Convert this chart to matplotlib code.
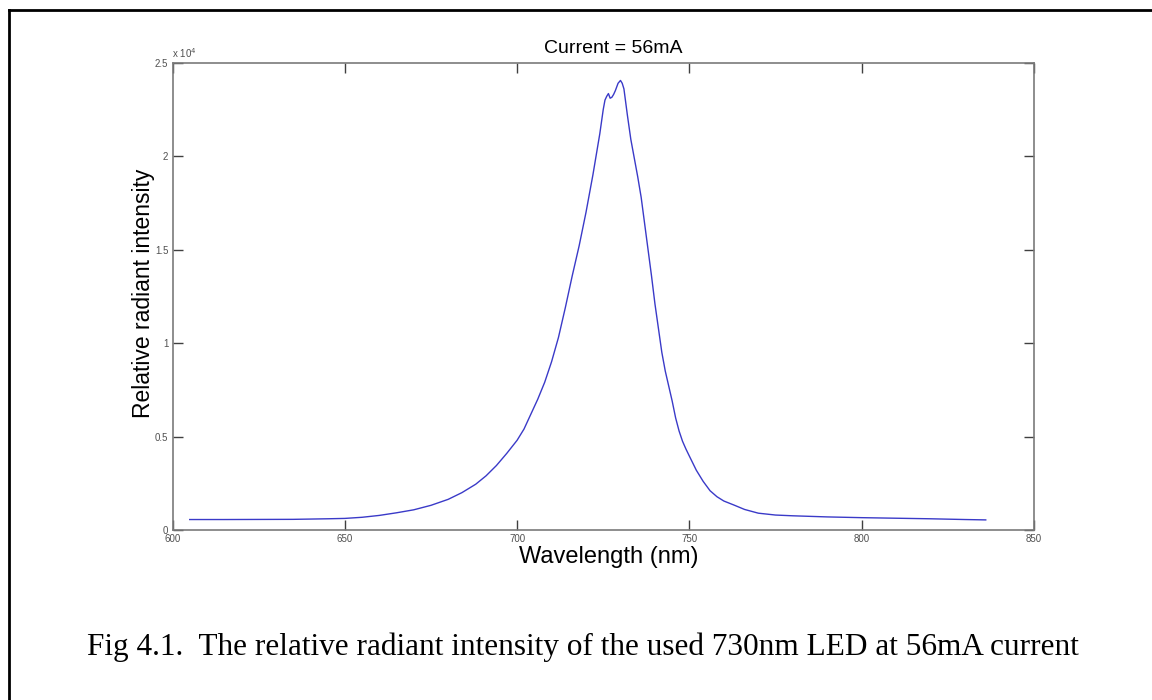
import matplotlib
matplotlib.use("Agg")
import matplotlib.pyplot as plt
from matplotlib.lines import Line2D
from matplotlib.ticker import FuncFormatter

# Data (wavelength in nm, relative intensity)
wavelength = [605, 615, 625, 635, 645, 650, 655, 660, 665, 670, 675, 680, 684,
              688, 691, 694, 697, 700, 702, 704, 706, 708, 710, 712, 714, 716,
              718, 719, 720, 721, 722, 723, 724, 725, 725.5, 726, 726.5, 727,
              727.5, 728, 728.5, 729.3, 730, 730.5, 731, 731.5, 732, 733, 734,
              735, 736, 737, 738, 739, 740, 741, 742, 743, 744, 745, 746, 747,
              748, 749, 750, 752, 754, 756, 758, 760, 763, 766, 770, 775, 780,
              790, 800, 810, 820, 830, 836]
intensity = [560, 560, 565, 570, 600, 620, 680, 780, 920, 1080, 1320, 1640,
             2000, 2450, 2900, 3450, 4100, 4800, 5400, 6200, 7000, 7900, 9000,
             10300, 11900, 13600, 15200, 16100, 17000, 18000, 19000, 20100,
             21200, 22500, 23000, 23200, 23350, 23100, 23150, 23300, 23500,
             23900, 24050, 23900, 23600, 22900, 22200, 20900, 19900, 18900,
             17800, 16400, 15000, 13600, 12100, 10800, 9500, 8500, 7700, 6900,
             6000, 5300, 4750, 4330, 3950, 3200, 2600, 2100, 1780, 1550, 1330,
             1100, 900, 800, 760, 700, 660, 630, 600, 560, 540]

x_ticks = [600, 650, 700, 750, 800, 850]
y_ticks = [0, 5000, 10000, 15000, 20000, 25000]

title_text = "Current = 56mA"
x_label = "Wavelength (nm)"
y_label = "Relative radiant intensity"
caption = "Fig 4.1.  The relative radiant intensity of the used 730nm LED at 56mA current"

W, H = 1152, 700
fig = plt.figure(figsize=(W / 100, H / 100), dpi=100)
fig.patch.set_facecolor("white")

ax_left, ax_right, ax_top, ax_bottom = 172.5, 1034, 62.7, 530
ax = fig.add_axes([ax_left / W, 1 - ax_bottom / H,
                   (ax_right - ax_left) / W, (ax_bottom - ax_top) / H])
ax_w = ax_right - ax_left
ax_h = ax_bottom - ax_top

ax.plot(wavelength, intensity, color="#3a3ac8", linewidth=1.0)
ax.set_xlim(600, 850)
ax.set_ylim(0, 25000)
ax.set_xticks(x_ticks)
ax.set_yticks(y_ticks)

def yfmt(v, pos):
    return "%g" % (v / 1e4)
ax.yaxis.set_major_formatter(FuncFormatter(yfmt))

spine_color = "#7a7a7a"
for sp in ax.spines.values():
    sp.set_color(spine_color)
    sp.set_linewidth(1.2)
ax.tick_params(direction="in", length=7, width=1.0, color="#404040",
               labelsize=7, labelcolor="#505050",
               top=True, right=True, pad=3)
for lbl in ax.get_xticklabels() + ax.get_yticklabels():
    lbl.set_family("Liberation Sans")

ax.text(0.0, 1.005, r"x 10$^4$", transform=ax.transAxes, fontsize=7,
        color="#505050", ha="left", va="bottom", family="Liberation Sans")

ax.text((613.5 - ax_left) / ax_w, (ax_bottom - 52.7) / ax_h, title_text,
        transform=ax.transAxes, fontsize=14, family="Liberation Sans",
        ha="center", va="baseline")

ax.set_xlabel(x_label, fontsize=17, family="Liberation Sans")
ax.xaxis.set_label_coords((609 - ax_left) / ax_w, (ax_bottom - 546) / ax_h)
ax.set_ylabel(y_label, fontsize=16.5, family="Liberation Sans")
ax.yaxis.set_label_coords((155 - ax_left) / ax_w, (ax_bottom - 293) / ax_h)

fig.text(583 / W, 1 - 647 / H, caption, fontsize=22.5, family="Liberation Serif",
         ha="center", va="center", color="black")

# outer frame (left and top edges visible in the reference)
fig.add_artist(Line2D([8.5 / W, 8.5 / W], [0, 1 - 10 / H], transform=fig.transFigure,
                      color="black", linewidth=2))
fig.add_artist(Line2D([8.5 / W, 1.0], [1 - 10 / H, 1 - 10 / H], transform=fig.transFigure,
                      color="black", linewidth=2))

fig.savefig("out.png", dpi=100)
